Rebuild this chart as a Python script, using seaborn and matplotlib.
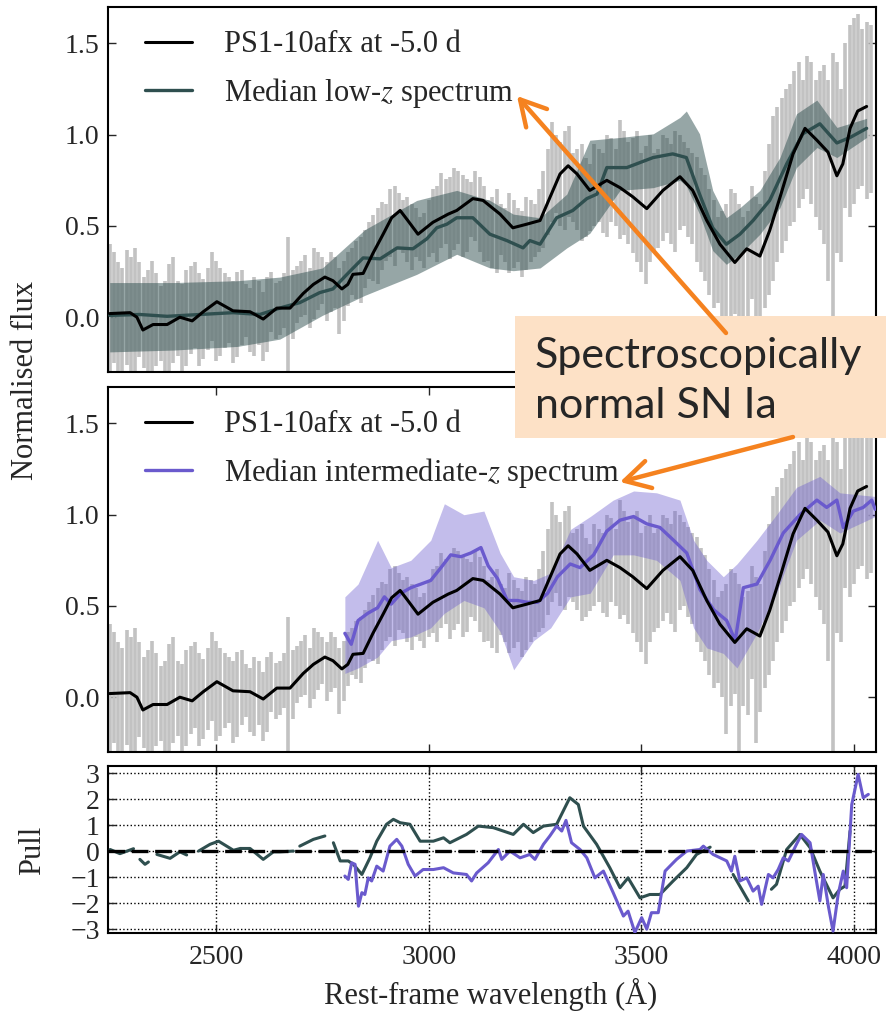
import numpy as np
import pandas as pd
import matplotlib
matplotlib.use('Agg')
import matplotlib.pyplot as plt
import seaborn as sns
from matplotlib.patches import Rectangle, FancyArrowPatch

nan = np.nan

# PS1-10afx, smoothed spectrum (black)
wl_ps1 = [2250, 2298, 2314, 2328, 2352, 2385, 2415, 2444, 2470, 2502,
          2540, 2580, 2611, 2643, 2674, 2705, 2729, 2756, 2775, 2796,
          2810, 2822, 2846, 2869, 2893, 2913, 2933, 2951, 2975, 3010,
          3046, 3066, 3104, 3128, 3168, 3198, 3231, 3262, 3285, 3309,
          3328, 3349, 3379, 3419, 3450, 3480, 3513, 3551, 3591, 3621,
          3654, 3685, 3720, 3748, 3779, 3802, 3826, 3857, 3885, 3913,
          3939, 3960, 3974, 3991, 4009, 4030]
f_ps1 = [0.02, 0.025, 0.0, -0.07, -0.04, -0.04, 0.0, -0.02, 0.03, 0.085,
         0.035, 0.03, -0.01, 0.05, 0.05, 0.13, 0.18, 0.22, 0.2, 0.155,
         0.18, 0.235, 0.24, 0.35, 0.455, 0.545, 0.585, 0.53, 0.455, 0.52,
         0.565, 0.585, 0.65, 0.64, 0.565, 0.49, 0.51, 0.53, 0.655, 0.785,
         0.83, 0.785, 0.695, 0.75, 0.71, 0.66, 0.595, 0.695, 0.77, 0.695,
         0.53, 0.4, 0.3, 0.375, 0.335, 0.475, 0.655, 0.895, 1.035, 0.97,
         0.905, 0.775, 0.84, 1.035, 1.13, 1.155]

# raw spectrum error bars (grey), two interleaved sets
wl_raw_a = [2250, 2270, 2290, 2310, 2330, 2350, 2370, 2390, 2410, 2430,
            2450, 2470, 2490, 2510, 2530, 2550, 2570, 2590, 2610, 2630,
            2650, 2670, 2690, 2710, 2730, 2750, 2770, 2790, 2810, 2830,
            2850, 2870, 2890, 2910, 2930, 2950, 2970, 2990, 3010, 3030,
            3050, 3070, 3090, 3110, 3130, 3150, 3170, 3190, 3210, 3230,
            3250, 3270, 3290, 3310, 3330, 3350, 3370, 3390, 3410, 3430,
            3450, 3470, 3490, 3510, 3530, 3550, 3570, 3590, 3610, 3630,
            3650, 3670, 3690, 3710, 3730, 3750, 3770, 3790, 3810, 3830,
            3850, 3870, 3890, 3910, 3930, 3950, 3970, 3990, 4010, 4030]
lo_raw_a = [-0.33, -0.30, -0.26, -0.34, -0.28, -0.33, -0.24, -0.31, -0.21, -0.27,
            -0.17, -0.23, -0.13, -0.21, -0.14, -0.22, -0.11, -0.21, -0.24, -0.08,
            -0.10, -0.31, -0.03, 0.01, -0.01, 0.07, 0.03, -0.09, 0.06, 0.10,
            0.16, 0.20, 0.26, 0.33, 0.37, 0.30, 0.33, 0.27, 0.35, 0.38,
            0.32, 0.40, 0.36, 0.42, 0.30, 0.27, 0.34, 0.24, 0.30, 0.26,
            0.33, 0.38, 0.52, 0.50, 0.55, 0.48, 0.44, 0.50, 0.46, 0.52,
            0.43, 0.40, 0.30, 0.18, 0.36, 0.42, 0.40, 0.48, 0.44, 0.30,
            0.20, 0.05, 0.00, -0.05, -0.32, -0.10, -0.25, 0.05, 0.20, 0.35,
            0.50, 0.60, 0.70, 0.55, 0.40, -0.35, 0.30, 0.55, 0.70, 0.65]
hi_raw_a = [0.40, 0.30, 0.37, 0.38, 0.22, 0.31, 0.17, 0.29, 0.20, 0.26,
            0.30, 0.21, 0.36, 0.27, 0.22, 0.25, 0.18, 0.22, 0.14, 0.25,
            0.20, 0.44, 0.28, 0.34, 0.38, 0.33, 0.36, 0.27, 0.36, 0.42,
            0.48, 0.56, 0.63, 0.70, 0.68, 0.66, 0.60, 0.57, 0.70, 0.79,
            0.77, 0.80, 0.76, 0.80, 0.72, 0.66, 0.62, 0.68, 0.60, 0.66,
            0.62, 0.80, 1.07, 0.96, 1.05, 0.92, 0.87, 0.95, 0.90, 0.98,
            1.08, 0.96, 1.02, 0.94, 0.90, 1.00, 0.95, 1.00, 0.93, 0.88,
            0.78, 0.64, 0.58, 0.70, 0.62, 0.58, 0.66, 0.80, 1.10, 1.20,
            1.28, 1.40, 1.43, 1.30, 1.38, 1.45, 1.25, 1.60, 1.66, 1.62]
wl_raw_b = [2260, 2280, 2300, 2320, 2340, 2360, 2380, 2400, 2420, 2440,
            2460, 2480, 2500, 2520, 2540, 2560, 2580, 2600, 2620, 2640,
            2660, 2680, 2700, 2720, 2740, 2760, 2780, 2800, 2820, 2840,
            2860, 2880, 2900, 2920, 2940, 2960, 2980, 3000, 3020, 3040,
            3060, 3080, 3100, 3120, 3140, 3160, 3180, 3200, 3220, 3240,
            3260, 3280, 3300, 3320, 3340, 3360, 3380, 3400, 3420, 3440,
            3460, 3480, 3500, 3520, 3540, 3560, 3580, 3600, 3620, 3640,
            3660, 3680, 3700, 3720, 3740, 3760, 3780, 3800, 3820, 3840,
            3860, 3880, 3900, 3920, 3940, 3960, 3980, 4000, 4020, 4040]
lo_raw_b = [-0.25, -0.33, -0.30, -0.22, -0.35, -0.27, -0.34, -0.25, -0.30, -0.20,
            -0.27, -0.18, -0.24, -0.17, -0.25, -0.15, -0.19, -0.15, -0.19, -0.12,
            -0.06, -0.12, 0.00, -0.06, 0.04, -0.02, 0.05, -0.02, 0.12, 0.08,
            0.21, 0.18, 0.31, 0.28, 0.35, 0.26, 0.31, 0.33, 0.30, 0.40,
            0.37, 0.33, 0.44, 0.36, 0.31, 0.24, 0.30, 0.27, 0.22, 0.30,
            0.36, 0.45, 0.57, 0.48, 0.52, 0.42, 0.47, 0.52, 0.44, 0.50,
            0.45, 0.35, 0.25, 0.30, 0.38, 0.46, 0.36, 0.50, 0.40, 0.25,
            0.12, 0.08, -0.20, 0.02, -0.05, 0.10, -0.08, 0.12, 0.30, 0.42,
            0.52, 0.65, 0.62, 0.48, 0.20, 0.35, 0.60, 0.62, 0.72, 0.68]
hi_raw_b = [0.36, 0.27, 0.33, 0.30, 0.26, 0.24, 0.20, 0.33, 0.18, 0.28,
            0.24, 0.27, 0.31, 0.24, 0.20, 0.26, 0.16, 0.20, 0.22, 0.19,
            0.24, 0.26, 0.31, 0.27, 0.36, 0.30, 0.33, 0.31, 0.38, 0.44,
            0.52, 0.60, 0.62, 0.72, 0.64, 0.62, 0.55, 0.64, 0.72, 0.76,
            0.82, 0.78, 0.74, 0.77, 0.64, 0.70, 0.60, 0.64, 0.58, 0.64,
            0.70, 0.92, 1.00, 1.02, 0.90, 0.95, 0.84, 0.92, 1.00, 0.92,
            1.02, 0.98, 0.90, 1.00, 0.92, 0.98, 1.02, 0.96, 0.90, 0.82,
            0.70, 0.55, 0.62, 0.68, 0.55, 0.72, 0.62, 0.95, 1.15, 1.25,
            1.35, 1.30, 1.40, 1.35, 1.30, 1.40, 1.50, 1.64, 1.58, 1.60]

# median low-z spectrum
wl_low = [2250, 2321, 2385, 2462, 2540, 2603, 2657, 2697, 2744, 2775,
          2808, 2846, 2886, 2926, 2963, 2996, 3019, 3043, 3066, 3104,
          3144, 3184, 3222, 3238, 3262, 3301, 3339, 3372, 3396, 3419,
          3466, 3528, 3574, 3606, 3637, 3668, 3700, 3732, 3763, 3802,
          3842, 3880, 3920, 3960, 3991, 4030]
f_low = [0.01, 0.015, 0.005, 0.015, 0.025, 0.015, 0.055, 0.08, 0.135, 0.155,
         0.235, 0.325, 0.32, 0.38, 0.375, 0.43, 0.49, 0.51, 0.545, 0.545,
         0.455, 0.42, 0.38, 0.42, 0.40, 0.545, 0.585, 0.65, 0.675, 0.82,
         0.82, 0.875, 0.895, 0.875, 0.675, 0.49, 0.40, 0.455, 0.53, 0.64,
         0.84, 1.005, 1.06, 0.955, 0.985, 1.035]
wl_low_band = [2250, 2400, 2550, 2650, 2750, 2850, 2972, 3066, 3144, 3199,
               3262, 3325, 3379, 3450, 3528, 3591, 3606, 3637, 3668, 3700,
               3732, 3779, 3826, 3865, 3913, 3960, 4030]
lo_low = [-0.19, -0.18, -0.16, -0.12, 0.01, 0.12, 0.235, 0.345, 0.27, 0.255,
          0.27, 0.38, 0.46, 0.695, 0.71, 0.75, 0.72, 0.565, 0.365, 0.29,
          0.345, 0.455, 0.6, 0.82, 0.93, 0.875, 0.985]
hi_low = [0.19, 0.19, 0.2, 0.22, 0.27, 0.48, 0.64, 0.695, 0.64, 0.565,
          0.545, 0.675, 0.97, 0.985, 1.005, 1.095, 1.13, 1.005, 0.695, 0.545,
          0.6, 0.695, 0.875, 1.115, 1.19, 1.04, 1.09]

# median intermediate-z spectrum
wl_int = [2803, 2818, 2834, 2857, 2880, 2896, 2912, 2935, 2958, 2982,
          3005, 3029, 3052, 3076, 3099, 3123, 3140, 3162, 3185, 3209,
          3232, 3256, 3280, 3303, 3333, 3356, 3388, 3419, 3450, 3482,
          3513, 3544, 3576, 3607, 3638, 3670, 3701, 3721, 3740, 3772,
          3803, 3834, 3873, 3913, 3936, 3960, 3975, 3999, 4022, 4042, 4050]
f_int = [0.35, 0.29, 0.42, 0.46, 0.49, 0.55, 0.51, 0.57, 0.60, 0.62,
         0.64, 0.71, 0.78, 0.77, 0.79, 0.82, 0.72, 0.65, 0.53, 0.53,
         0.52, 0.52, 0.57, 0.66, 0.73, 0.71, 0.78, 0.91, 0.97, 0.99,
         0.95, 0.93, 0.86, 0.79, 0.59, 0.48, 0.42, 0.31, 0.60, 0.62,
         0.75, 0.90, 1.00, 1.08, 1.04, 1.08, 0.93, 1.02, 1.04, 1.08, 1.03]
wl_int_band = [2803, 2834, 2880, 2912, 2958, 3005, 3037, 3083, 3130, 3168,
               3200, 3247, 3287, 3334, 3380, 3434, 3482, 3536, 3591, 3623,
               3654, 3693, 3725, 3772, 3818, 3865, 3920, 3967, 4050]
lo_int = [0.13, 0.16, 0.22, 0.31, 0.33, 0.38, 0.46, 0.53, 0.49, 0.36,
          0.15, 0.31, 0.38, 0.55, 0.57, 0.78, 0.78, 0.75, 0.64, 0.38,
          0.27, 0.24, 0.16, 0.35, 0.57, 0.86, 0.97, 0.90, 0.99]
hi_int = [0.55, 0.62, 0.86, 0.71, 0.75, 0.86, 1.06, 1.00, 1.02, 0.79,
          0.66, 0.64, 0.68, 0.92, 0.99, 1.08, 1.13, 1.12, 1.08, 0.86,
          0.75, 0.66, 0.73, 0.86, 1.00, 1.15, 1.21, 1.12, 1.10]

# pulls (nan = gap)
wl_pull_low = [2251, 2274, 2306, 2313, 2321, 2333, 2341, 2350, 2361, 2392,
               2415, 2431, 2445, 2459, 2486, 2506, 2541, 2557, 2580, 2611,
               2635, 2650, 2682, 2690, 2697, 2729, 2756, 2766, 2776, 2792,
               2811, 2823, 2843, 2862, 2878, 2901, 2917, 2933, 2956, 2980,
               3011, 3035, 3050, 3089, 3117, 3152, 3199, 3223, 3246, 3270,
               3301, 3332, 3352, 3364, 3395, 3426, 3450, 3469, 3497, 3520,
               3544, 3575, 3607, 3630, 3662, 3690, 3716, 3752, 3780, 3806,
               3818, 3842, 3873, 3897, 3920, 3951, 3967, 3979, 3991]
pull_low = [0.06, -0.1, 0.09, nan, -0.32, -0.51, -0.42, nan, -0.13, -0.28,
            -0.03, -0.15, nan, 0.0, 0.26, 0.38, 0.03, 0.1, 0.1, -0.32,
            -0.03, -0.03, 0.0, nan, 0.19, 0.45, 0.58, nan, 0.32, -0.38,
            -0.38, -0.51, -0.9, -0.26, 0.38, 1.03, 1.22, 1.09, 1.03, 0.38,
            0.38, 0.51, 0.32, 0.64, 0.96, 0.9, 0.64, 1.03, 0.71, 0.96,
            1.03, 2.05, 1.79, 0.96, 0.26, -0.64, -1.41, -1.03, -1.8, -1.67,
            -1.67, -1.15, -0.64, -0.13, 0.15, nan, -0.9, -1.92, nan, -1.47,
            -1.28, 0.06, 0.64, 0.13, -0.77, -1.8, -1.47, -1.35, 0.77]
wl_pull_int = [2803, 2811, 2819, 2827, 2835, 2843, 2850, 2858, 2866, 2878,
               2893, 2909, 2925, 2937, 2952, 2968, 2987, 3011, 3035, 3058,
               3089, 3101, 3113, 3140, 3164, 3172, 3191, 3215, 3238, 3250,
               3270, 3285, 3301, 3313, 3323, 3336, 3356, 3372, 3391, 3411,
               3434, 3458, 3469, 3485, 3501, 3513, 3524, 3540, 3556, 3583,
               3607, 3638, 3646, 3669, 3701, 3712, 3720, 3732, 3748, 3763,
               3775, 3783, 3799, 3810, 3822, 3834, 3846, 3865, 3877, 3897,
               3908, 3920, 3928, 3940, 3951, 3963, 3975, 3983, 3995, 4010,
               4022, 4034]
pull_int = [-0.96, -1.09, -0.45, -0.51, -2.12, -1.6, -1.67, -1.03, -1.15, -0.58,
            -0.77, 0.19, 0.45, 0.19, -0.51, -0.96, -0.71, -0.71, -0.64, -0.84,
            -0.9, -1.15, -0.84, -0.45, 0.06, -0.32, 0.0, -0.26, -0.13, -0.32,
            0.26, 0.58, 0.96, 0.77, 1.18, 0.32, 0.06, -0.26, -1.03, -0.77,
            -1.6, -2.5, -2.31, -3.13, -2.56, -3.0, -2.37, -2.37, -0.77, -0.32,
            0.0, 0.06, 0.19, -0.13, -0.38, -0.77, -0.2, -1.15, -1.03, -1.54,
            -1.35, -2.05, -0.9, -1.03, -0.71, -0.26, -0.38, 0.26, 0.64, 0.32,
            -0.77, -1.92, -0.9, -2.12, -3.08, -1.67, -0.77, -1.41, 1.79, 2.95,
            2.05, 2.18]

# ticks
x_ticks = [2500, 3000, 3500, 4000]
x_ticklabels = ['2500', '3000', '3500', '4000']
flux_ticks = [0.0, 0.5, 1.0, 1.5]
flux_ticklabels = ['0.0', '0.5', '1.0', '1.5']
pull_ticks = [-3, -2, -1, 0, 1, 2, 3]
pull_ticklabels = ['\u22123', '\u22122', '\u22121', '0', '1', '2', '3']

LOW = 'darkslategray'
INT = 'slateblue'
GREY = '#c2c2c2'
ORANGE = '#f5821f'
SERIF = ['Liberation Serif', 'DejaVu Serif']

sns.set_style('ticks')
plt.rcParams['font.family'] = SERIF
plt.rcParams['mathtext.fontset'] = 'stix'
plt.rcParams['axes.linewidth'] = 1.5
plt.rcParams['axes.edgecolor'] = 'black'

fig = plt.figure(figsize=(8.86, 10.13), dpi=100)
ax1 = fig.add_axes([0.1219, 0.6328, 0.8668, 0.3603])
ax2 = fig.add_axes([0.1219, 0.2577, 0.8668, 0.3603])
ax3 = fig.add_axes([0.1219, 0.0790, 0.8668, 0.1648])

panels = [(ax1, wl_low, f_low, wl_low_band, lo_low, hi_low, LOW, 0.5,
           'Median low-$z$ spectrum'),
          (ax2, wl_int, f_int, wl_int_band, lo_int, hi_int, INT, 0.4,
           'Median intermediate-$z$ spectrum')]

for ax, wl, fl, wlb, lo, hi, col, alpha, lab in panels:
    ax.vlines(wl_raw_a, lo_raw_a, hi_raw_a, color=GREY, lw=2.6, zorder=1)
    ax.vlines(wl_raw_b, lo_raw_b, hi_raw_b, color=GREY, lw=2.6, zorder=1)
    ax.fill_between(wlb, lo, hi, color=col, alpha=alpha, lw=0, zorder=2)
    sns.lineplot(x=wl_ps1, y=f_ps1, ax=ax, color='k', lw=2.2, sort=False,
                 estimator=None, label='PS1-10afx at -5.0 d', zorder=4)
    sns.lineplot(x=wl, y=fl, ax=ax, color=col, lw=2.4, sort=False,
                 estimator=None, label=lab, zorder=3)
    ax.set_xlim(2246, 4052)
    ax.set_ylim(-0.3, 1.7)
    ax.set_yticks(flux_ticks)
    ax.set_yticklabels(flux_ticklabels, family=SERIF, fontsize=20)
    ax.set_xticks(x_ticks)
    ax.tick_params(direction='in', length=6, width=1, pad=6,
                   top=True, right=True, labelbottom=False)
    ax.set_xlabel('')
    ax.set_ylabel('')
    ax.legend(loc='upper left', bbox_to_anchor=(0.048, 0.936), frameon=False,
              fontsize=22, handlelength=1.55, handletextpad=1.05,
              borderpad=0, borderaxespad=0, labelspacing=0.55)

ax1.tick_params(axis='x', top=False, bottom=False)

# pull panel
df_low = pd.DataFrame({'wl': wl_pull_low, 'pull': pull_low})
df_low['seg'] = df_low['pull'].isna().cumsum()
df_low = df_low.dropna()
sns.lineplot(data=df_low, x='wl', y='pull', units='seg', estimator=None,
             sort=False, color=LOW, lw=2.2, ax=ax3, zorder=3)
sns.lineplot(x=wl_pull_int, y=pull_int, estimator=None, sort=False,
             color=INT, lw=2.2, ax=ax3, zorder=4)
ax3.axhline(0, color='k', ls='--', lw=2.4, dashes=(5, 2), zorder=5)
ax3.set_xlim(2246, 4052)
ax3.set_ylim(-3.15, 3.27)
ax3.set_yticks(pull_ticks)
ax3.set_yticklabels(pull_ticklabels, family=SERIF, fontsize=20)
ax3.set_xticks(x_ticks)
ax3.set_xticklabels(x_ticklabels, family=SERIF, fontsize=20)
ax3.grid(True, ls=':', color='k', lw=1)
ax3.tick_params(direction='in', length=6, width=1, pad=6,
                top=True, right=True)
ax3.tick_params(axis='x', pad=9)
ax3.set_xlabel('')
ax3.set_ylabel('')

fig.text(26 / 886, 1 - 380 / 1013, 'Normalised flux', rotation=90,
         fontsize=22, ha='center', va='center')
fig.text(33 / 886, 1 - 850 / 1013, 'Pull', rotation=90,
         fontsize=22, ha='center', va='center')
fig.text(491 / 886, 1 - 994 / 1013, 'Rest-frame wavelength (Å)',
         fontsize=22, ha='center', va='center')

# annotation box and arrows
fig.add_artist(Rectangle((515 / 886, 1 - 438 / 1013), (886 - 515) / 886,
                         (438 - 316) / 1013, transform=fig.transFigure,
                         facecolor='#fde1c6', edgecolor='none', zorder=20))
fig.text(535 / 886, 1 - 368 / 1013, 'Spectroscopically', family='Lato',
         fontsize=31, va='baseline', zorder=21)
fig.text(535 / 886, 1 - 418 / 1013, 'normal SN Ia', family='Lato',
         fontsize=31, va='baseline', zorder=21)
for tail, head in [((726, 333), (517, 96)), ((793, 437), (620, 482))]:
    fig.add_artist(FancyArrowPatch(
        (tail[0] / 886, 1 - tail[1] / 1013), (head[0] / 886, 1 - head[1] / 1013),
        transform=fig.transFigure, arrowstyle='->,head_length=0.9,head_width=0.5',
        mutation_scale=20, color=ORANGE, lw=3.2, zorder=22,
        shrinkA=0, shrinkB=0))

fig.savefig('out.png', dpi=100)
